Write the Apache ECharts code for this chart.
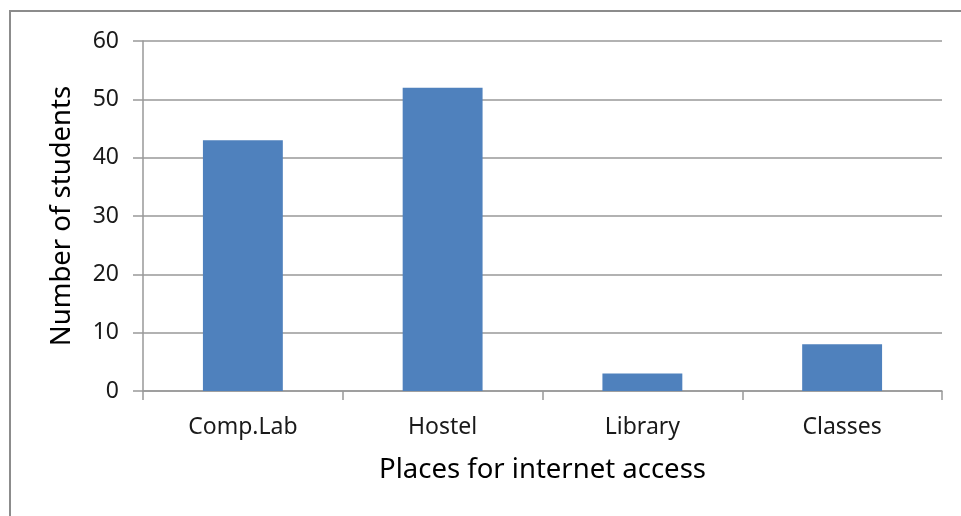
<!DOCTYPE html>
<html><head><meta charset="utf-8">
<script src="https://cdn.jsdelivr.net/npm/echarts@6/dist/echarts.min.js"></script>
<style>html,body{margin:0;padding:0;background:#fff}#c{width:961px;height:516px;position:relative}</style>
</head><body><div id="c"></div>
<script>
var categories = ['Comp.Lab', 'Hostel', 'Library', 'Classes'];
var students = [43, 52, 3, 8];
var yTicks = [0, 10, 20, 30, 40, 50, 60];
var xTitle = 'Places for internet access';
var yTitle = 'Number of students';

var chart = echarts.init(document.getElementById('c'));
var font = "'Noto Sans', 'Open Sans', sans-serif";
chart.setOption({
  animation: false,
  backgroundColor: '#fff',
  grid: { left: 143, right: 19, top: 41, bottom: 125 },
  graphic: [{ type: 'polyline', shape: { points: [[10, 516], [10, 11], [961, 11]] }, style: { stroke: '#8c8c8c', lineWidth: 2, fill: null } }],
  xAxis: {
    type: 'category', data: categories,
    name: xTitle, nameLocation: 'middle', nameGap: 65,
    nameTextStyle: { fontFamily: font, fontSize: 27.5, color: '#000' },
    axisLine: { lineStyle: { color: '#999', width: 1.5 } },
    axisTick: { show: true, length: 9, alignWithLabel: false, lineStyle: { color: '#999', width: 1.5 } },
    axisLabel: { fontFamily: font, fontSize: 23, color: '#1a1a1a', margin: 25 }
  },
  yAxis: {
    type: 'value', min: yTicks[0], max: yTicks[yTicks.length - 1], interval: 10,
    name: yTitle, nameLocation: 'middle', nameGap: 67,
    nameTextStyle: { fontFamily: font, fontSize: 27.5, color: '#000' },
    axisLine: { show: true, lineStyle: { color: '#999', width: 1.5 } },
    axisTick: { show: true, length: 10, lineStyle: { color: '#999', width: 1.5 } },
    axisLabel: { fontFamily: font, fontSize: 23, color: '#1a1a1a', margin: 24 },
    splitLine: { lineStyle: { color: '#999', width: 1.5 } }
  },
  series: [{
    type: 'bar', data: students, barWidth: '40%',
    itemStyle: { color: '#4F81BD' }
  }]
});
</script></body></html>
